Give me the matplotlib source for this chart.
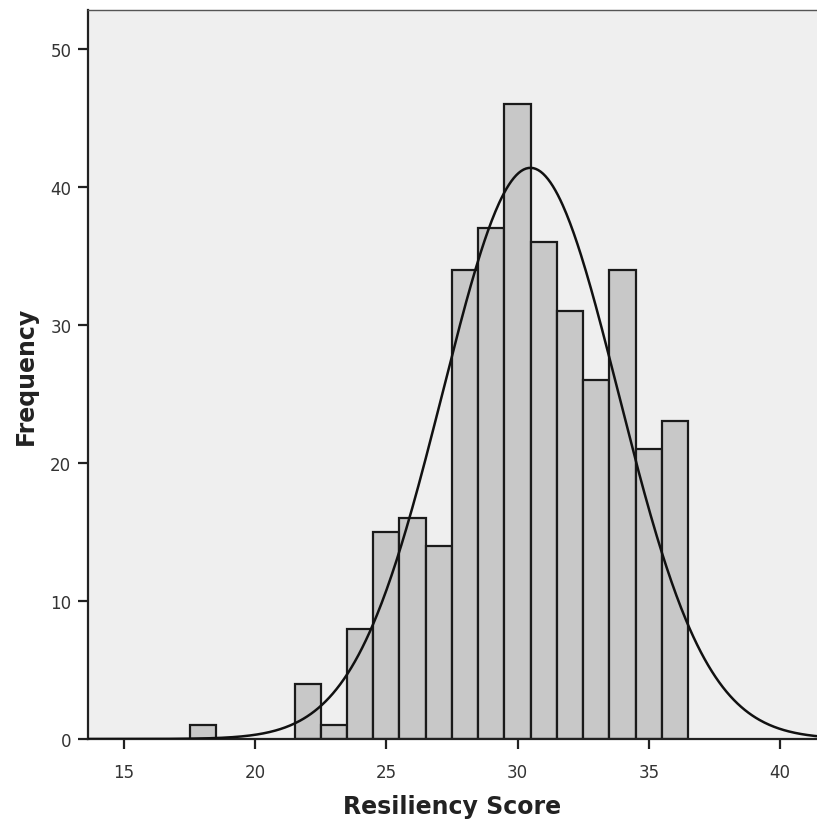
import numpy as np
import matplotlib
matplotlib.use("Agg")
import matplotlib.pyplot as plt

# Data (bin centres and frequencies)
scores = [18, 22, 23, 24, 25, 26, 27, 28, 29, 30, 31, 32, 33, 34, 35, 36]
freqs = [1, 4, 1, 8, 15, 16, 14, 34, 37, 46, 36, 31, 26, 34, 21, 23]
x_ticks = [15, 20, 25, 30, 35, 40]
y_ticks = [0, 10, 20, 30, 40, 50]

scores_a = np.array(scores, dtype=float)
freqs_a = np.array(freqs, dtype=float)
n = freqs_a.sum()
mean = (scores_a * freqs_a).sum() / n
sd = np.sqrt((freqs_a * (scores_a - mean) ** 2).sum() / (n - 1))

fig = plt.figure(figsize=(8.17, 8.20), dpi=100)
fig.patch.set_facecolor("white")
ax = fig.add_axes([0.1077, 0.0976, 0.8923, 0.889])
ax.set_facecolor("#efefef")

ax.bar(scores, freqs, width=1.0, color="#c8c8c8", edgecolor="#1a1a1a",
       linewidth=1.6, zorder=2)

xs = np.linspace(13.6, 41.5, 600)
ys = n * 1.0 / (sd * np.sqrt(2 * np.pi)) * np.exp(-0.5 * ((xs - mean) / sd) ** 2)
ax.plot(xs, ys, color="#111111", linewidth=1.8, zorder=3)

ax.set_xlim(13.63, 41.41)
ax.set_ylim(0, 52.8)
ax.set_xticks(x_ticks)
ax.set_yticks(y_ticks)
ax.tick_params(axis="both", direction="out", length=7, width=1.6,
               color="#222222", labelsize=12, labelcolor="#333333", pad=5)
ax.tick_params(axis="x", pad=10)

for side in ["left", "bottom"]:
    ax.spines[side].set_linewidth(1.6)
    ax.spines[side].set_color("#222222")
ax.spines["top"].set_linewidth(1.0)
ax.spines["top"].set_color("#555555")
ax.spines["right"].set_visible(False)

ax.set_xlabel("Resiliency Score", fontsize=17, fontweight="bold",
              color="#222222", labelpad=10)
ax.set_ylabel("Frequency", fontsize=17, fontweight="bold",
              color="#222222", labelpad=9)

fig.savefig("out.png", dpi=100)
